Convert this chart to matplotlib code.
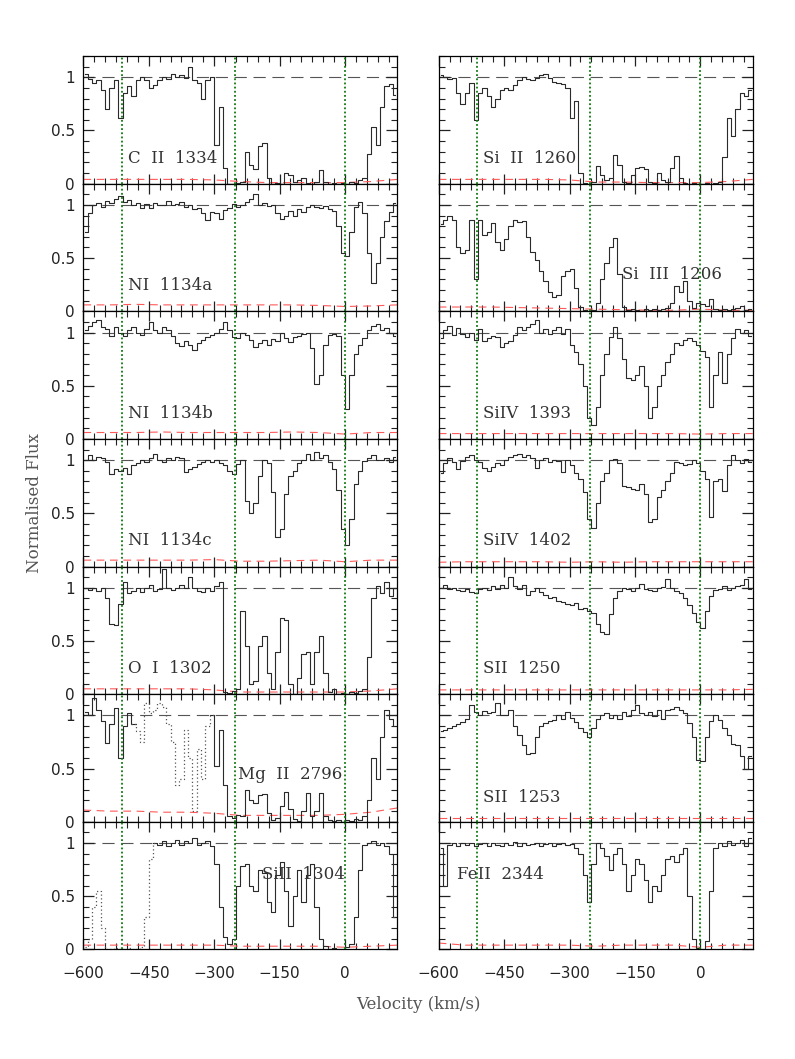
import numpy as np
import matplotlib.pyplot as plt
from matplotlib.ticker import MultipleLocator, FuncFormatter

# velocity bin centres (km/s) and the coarser grid used for the error spectra
VEL = np.arange(-595, 120, 10)
ERR_VEL = np.arange(-600, 121, 60)
VLINES = [-512, -252, 0]

# ---- left column ----
C2_1334 = [1.03, 0.98, 0.95, 0.97, 0.88, 0.70, 0.90, 0.97, 0.62, 0.85, 0.92, 0.82,
           0.97, 1.00, 0.97, 0.90, 0.93, 0.97, 1.00, 0.98, 1.03, 1.00, 1.02, 0.99,
           1.10, 0.97, 0.95, 0.80, 0.97, 1.00, 0.36, 0.72, 0.15, 0.00, 0.00, 0.01,
           0.02, 0.30, 0.18, 0.14, 0.35, 0.38, 0.05, 0.00, 0.01, 0.00, 0.10, 0.08,
           0.02, 0.03, 0.05, 0.01, 0.00, 0.02, 0.13, 0.02, 0.00, 0.01, 0.00, 0.01,
           0.00, 0.02, 0.01, 0.03, 0.05, 0.28, 0.53, 0.36, 0.72, 0.92, 0.94, 0.83]
N1_1134A = [0.75, 0.92, 1.00, 1.02, 0.98, 1.04, 1.02, 1.06, 1.08, 1.03, 1.05, 1.00,
            1.02, 0.97, 1.01, 0.97, 1.02, 1.00, 1.00, 1.04, 1.00, 1.01, 1.03, 0.98,
            1.00, 0.96, 0.97, 0.92, 0.86, 0.93, 0.92, 0.87, 0.95, 0.97, 1.01, 0.98,
            1.00, 1.03, 1.06, 1.10, 1.00, 1.02, 0.99, 1.00, 0.92, 0.87, 0.90, 0.94,
            0.90, 0.96, 0.93, 0.98, 1.00, 0.98, 0.97, 0.99, 0.96, 0.94, 0.80, 0.55,
            0.52, 0.75, 0.98, 1.03, 0.92, 0.55, 0.27, 0.45, 0.70, 0.85, 0.93, 1.02]
N1_1134B = [1.02, 1.06, 1.10, 1.12, 1.05, 1.03, 0.97, 1.05, 1.00, 0.97, 1.02, 1.05,
            1.00, 0.98, 1.03, 1.10, 1.02, 1.00, 1.05, 1.02, 0.97, 0.90, 0.87, 0.92,
            0.88, 0.84, 0.90, 0.93, 0.96, 0.98, 1.00, 1.03, 1.10, 1.02, 0.96, 0.95,
            1.00, 0.98, 0.93, 0.86, 0.90, 0.93, 0.88, 0.94, 0.92, 1.00, 0.95, 0.91,
            0.96, 0.97, 0.99, 1.00, 0.85, 0.52, 0.60, 0.88, 0.98, 0.99, 0.97, 0.60,
            0.28, 0.60, 0.80, 0.88, 0.95, 1.02, 1.06, 1.08, 1.02, 1.04, 1.00, 0.97]
N1_1134C = [1.00, 1.05, 1.00, 1.03, 1.02, 0.98, 0.87, 0.92, 0.90, 0.93, 0.87, 0.95,
            0.97, 1.00, 0.98, 1.02, 1.06, 1.00, 0.98, 1.02, 1.00, 1.03, 1.02, 0.89,
            0.92, 0.94, 0.96, 0.98, 1.00, 0.98, 1.00, 0.97, 0.95, 0.90, 0.87, 0.96,
            1.00, 0.62, 0.50, 0.60, 0.85, 1.00, 0.97, 0.70, 0.28, 0.35, 0.68, 0.85,
            0.90, 0.97, 1.00, 1.06, 1.00, 1.08, 1.02, 1.05, 0.98, 0.92, 0.72, 0.35,
            0.20, 0.45, 0.78, 0.90, 0.99, 1.02, 1.05, 1.00, 1.00, 1.02, 0.98, 1.03]
O1_1302 = [1.00, 0.98, 1.00, 0.97, 1.00, 0.90, 0.66, 0.65, 0.85, 1.05, 0.95, 0.97,
           1.00, 0.96, 1.00, 1.03, 0.97, 0.99, 1.18, 1.00, 0.98, 1.00, 1.03, 1.00,
           1.10, 1.00, 0.97, 0.96, 1.00, 0.97, 1.02, 1.05, 0.02, 0.01, 0.03, 0.05,
           0.78, 0.45, 0.10, 0.12, 0.45, 0.55, 0.20, 0.05, 0.40, 0.72, 0.70, 0.10,
           0.00, 0.15, 0.38, 0.40, 0.10, 0.40, 0.55, 0.20, 0.02, 0.05, 0.00, 0.01,
           0.00, 0.02, 0.01, 0.03, 0.05, 0.35, 0.90, 1.02, 0.95, 1.05, 0.92, 1.00]
MG2_2796 = [1.03, 1.00, 1.16, 1.05, 0.95, 0.74, 0.92, 1.07, 0.60, 0.90, 1.02, 0.92,
            0.85, 0.75, 1.12, 1.02, 1.05, 1.12, 1.08, 0.92, 0.75, 0.35, 0.40, 0.86,
            0.60, 0.10, 0.68, 0.40, 0.90, 1.00, 0.52, 0.86, 0.35, 0.05, 0.04, 0.06,
            0.05, 0.30, 0.20, 0.18, 0.25, 0.26, 0.08, 0.02, 0.04, 0.15, 0.28, 0.12,
            0.03, 0.01, 0.10, 0.27, 0.05, 0.10, 0.27, 0.05, 0.02, 0.01, 0.02, 0.00,
            0.02, 0.01, 0.03, 0.02, 0.05, 0.20, 0.60, 0.40, 0.80, 1.05, 0.97, 0.90]
SI2_1304 = [0.02, 0.10, 0.40, 0.55, 0.20, 0.00, 0.00, 0.01, 0.00, 0.00, 0.01, 0.00,
            0.00, 0.02, 0.30, 0.85, 1.00, 0.98, 1.02, 0.97, 1.00, 1.03, 0.98, 1.02,
            1.00, 1.05, 0.98, 1.00, 1.02, 0.97, 0.80, 0.40, 0.12, 0.05, 0.10, 0.60,
            0.78, 0.80, 0.60, 0.55, 0.75, 0.72, 0.45, 0.35, 0.70, 0.82, 0.55, 0.22,
            0.50, 0.75, 0.45, 0.70, 0.80, 0.40, 0.10, 0.03, 0.00, 0.01, 0.00, 0.00,
            0.02, 0.05, 0.30, 0.75, 0.98, 1.00, 1.02, 0.98, 1.00, 0.97, 0.90, 0.30]

# ---- right column ----
SI2_1260 = [1.02, 1.00, 0.98, 0.99, 0.85, 0.75, 0.85, 0.95, 0.60, 0.85, 0.90, 0.82,
            0.72, 0.80, 0.88, 0.90, 0.88, 0.93, 0.97, 1.00, 0.98, 0.97, 0.99, 1.02,
            1.03, 0.99, 0.96, 0.95, 0.94, 0.90, 0.62, 0.78, 0.10, 0.01, 0.00, 0.02,
            0.17, 0.08, 0.03, 0.05, 0.27, 0.18, 0.02, 0.01, 0.08, 0.15, 0.16, 0.14,
            0.02, 0.01, 0.10, 0.03, 0.02, 0.15, 0.26, 0.05, 0.01, 0.00, 0.01, 0.00,
            0.00, 0.01, 0.00, 0.01, 0.02, 0.25, 0.62, 0.45, 0.70, 0.85, 0.82, 0.88]
SI3_1206 = [0.82, 0.86, 0.90, 0.86, 0.60, 0.55, 0.58, 0.86, 0.30, 0.86, 0.72, 0.75,
            0.83, 0.65, 0.58, 0.68, 0.80, 0.86, 0.84, 0.85, 0.70, 0.56, 0.48, 0.38,
            0.28, 0.18, 0.13, 0.15, 0.33, 0.38, 0.40, 0.22, 0.04, 0.01, 0.00, 0.01,
            0.08, 0.30, 0.45, 0.60, 0.69, 0.35, 0.04, 0.01, 0.02, 0.01, 0.00, 0.02,
            0.01, 0.02, 0.01, 0.02, 0.03, 0.08, 0.24, 0.18, 0.28, 0.10, 0.03, 0.08,
            0.07, 0.05, 0.12, 0.02, 0.01, 0.02, 0.01, 0.02, 0.03, 0.05, 0.01, 0.02]
SI4_1393 = [0.95, 1.02, 1.06, 0.98, 1.04, 0.99, 0.96, 1.00, 0.93, 1.03, 0.92, 0.95,
            0.97, 0.96, 0.86, 0.90, 0.92, 0.98, 1.05, 1.02, 1.05, 1.08, 1.12, 1.00,
            1.03, 0.99, 1.02, 1.05, 0.99, 1.03, 0.88, 0.82, 0.70, 0.50, 0.20, 0.13,
            0.30, 0.60, 0.80, 0.96, 1.05, 0.95, 0.75, 0.57, 0.55, 0.60, 0.69, 0.50,
            0.20, 0.30, 0.50, 0.60, 0.72, 0.80, 0.90, 0.88, 0.93, 0.95, 0.92, 0.88,
            0.83, 0.77, 0.30, 0.60, 0.82, 0.53, 0.80, 0.95, 1.03, 1.00, 1.02, 0.97]
SI4_1402 = [0.88, 0.97, 1.02, 0.98, 0.92, 0.99, 1.03, 1.05, 1.00, 0.98, 0.93, 0.90,
            0.94, 0.97, 0.95, 1.00, 1.03, 1.05, 1.06, 1.03, 1.05, 1.02, 0.93, 1.00,
            1.02, 0.98, 1.00, 0.99, 0.89, 1.00, 0.95, 0.88, 0.82, 0.70, 0.45, 0.36,
            0.60, 0.80, 0.88, 1.00, 1.01, 0.97, 0.76, 0.75, 0.73, 0.72, 0.78, 0.68,
            0.42, 0.45, 0.65, 0.72, 0.80, 0.88, 0.98, 0.97, 0.95, 0.96, 1.00, 0.97,
            0.90, 0.82, 0.47, 0.80, 0.82, 0.71, 0.95, 1.05, 1.00, 0.97, 1.01, 0.98]
S2_1250 = [1.00, 1.03, 0.99, 1.00, 0.98, 0.97, 0.99, 0.96, 0.95, 0.99, 1.00, 0.98,
           1.02, 0.99, 1.03, 1.00, 1.10, 1.02, 0.99, 1.03, 0.93, 0.97, 1.00, 0.96,
           0.93, 0.90, 0.91, 0.88, 0.87, 0.85, 0.84, 0.86, 0.80, 0.81, 0.78, 0.76,
           0.66, 0.58, 0.57, 0.75, 0.90, 0.97, 1.00, 0.99, 0.97, 1.00, 1.04, 0.99,
           0.98, 0.97, 1.00, 1.01, 1.08, 1.00, 0.97, 0.95, 0.90, 0.84, 0.76, 0.68,
           0.62, 0.78, 0.92, 0.98, 0.99, 1.02, 0.98, 1.00, 1.02, 1.03, 1.08, 0.99]
S2_1253 = [0.85, 0.86, 0.88, 0.90, 0.92, 0.94, 0.97, 1.10, 1.03, 1.00, 1.04, 1.02,
           1.03, 1.12, 1.00, 1.00, 1.05, 0.90, 0.82, 0.72, 0.64, 0.65, 0.80, 0.90,
           0.93, 0.95, 0.96, 1.00, 0.97, 1.03, 0.98, 0.94, 0.88, 0.84, 0.80, 0.88,
           0.97, 1.00, 1.02, 0.98, 1.00, 0.97, 1.03, 0.99, 1.05, 1.10, 1.02, 1.00,
           1.03, 0.99, 1.05, 0.97, 1.05, 1.06, 1.08, 1.05, 1.02, 0.93, 0.80, 0.58,
           0.57, 0.80, 0.95, 1.00, 0.96, 0.88, 0.82, 0.73, 0.72, 0.62, 0.50, 0.62]
FE2_2344 = [0.95, 0.60, 0.98, 1.00, 0.97, 1.00, 0.98, 1.00, 0.97, 0.99, 1.00, 0.97,
            1.00, 0.98, 0.97, 1.00, 0.98, 1.01, 0.97, 1.00, 0.98, 0.99, 1.00, 0.97,
            0.99, 1.00, 0.97, 0.99, 1.00, 0.98, 0.99, 0.95, 0.90, 0.70, 0.45, 0.80,
            1.00, 0.95, 0.88, 0.75, 0.90, 0.95, 0.80, 0.55, 0.70, 0.85, 0.80, 0.65,
            0.45, 0.60, 0.55, 0.70, 0.85, 0.88, 0.82, 0.90, 0.95, 0.50, 0.10, 0.01,
            0.00, 0.08, 0.55, 0.95, 1.00, 0.97, 1.02, 0.98, 1.00, 1.03, 0.97, 1.05]

# error spectra on ERR_VEL
ERR_C2_1334 = [0.04, 0.04, 0.04, 0.04, 0.04, 0.035, 0.02, 0.01, 0.01, 0.01, 0.01, 0.02, 0.04]
ERR_N1_1134A = [0.06, 0.06, 0.065, 0.06, 0.06, 0.06, 0.06, 0.06, 0.06, 0.055, 0.045, 0.05, 0.06]
ERR_N1_1134B = [0.06, 0.06, 0.06, 0.065, 0.06, 0.06, 0.06, 0.06, 0.065, 0.06, 0.045, 0.06, 0.06]
ERR_N1_1134C = [0.06, 0.06, 0.06, 0.06, 0.06, 0.065, 0.05, 0.05, 0.055, 0.06, 0.045, 0.06, 0.06]
ERR_O1_1302 = [0.05, 0.05, 0.05, 0.05, 0.05, 0.04, 0.02, 0.02, 0.02, 0.02, 0.02, 0.03, 0.05]
ERR_MG2_2796 = [0.11, 0.10, 0.10, 0.09, 0.09, 0.08, 0.06, 0.06, 0.06, 0.06, 0.07, 0.09, 0.13]
ERR_SI2_1304 = [0.04, 0.04, 0.04, 0.04, 0.04, 0.04, 0.03, 0.03, 0.03, 0.03, 0.02, 0.03, 0.04]
ERR_SI2_1260 = [0.04, 0.04, 0.04, 0.04, 0.04, 0.035, 0.015, 0.015, 0.01, 0.01, 0.01, 0.02, 0.04]
ERR_SI3_1206 = [0.04, 0.04, 0.04, 0.035, 0.03, 0.025, 0.02, 0.015, 0.01, 0.01, 0.02, 0.01, 0.01]
ERR_SI4_1393 = [0.05, 0.05, 0.05, 0.05, 0.05, 0.05, 0.05, 0.05, 0.05, 0.05, 0.045, 0.05, 0.05]
ERR_SI4_1402 = [0.04, 0.045, 0.045, 0.045, 0.045, 0.04, 0.045, 0.04, 0.045, 0.045, 0.045, 0.045, 0.045]
ERR_S2_1250 = [0.04, 0.04, 0.04, 0.04, 0.04, 0.04, 0.04, 0.04, 0.04, 0.04, 0.04, 0.04, 0.045]
ERR_S2_1253 = [0.04, 0.04, 0.04, 0.04, 0.04, 0.04, 0.04, 0.04, 0.04, 0.04, 0.04, 0.04, 0.04]
ERR_FE2_2344 = [0.06, 0.04, 0.04, 0.04, 0.04, 0.04, 0.03, 0.04, 0.04, 0.04, 0.02, 0.04, 0.04]

# velocity ranges blended with other lines (drawn dotted)
BLEND_MG2_2796 = (-480, -310)
BLEND_SI2_1304 = (-600, -440)

LEFT = [
    ("C  II  1334", C2_1334, ERR_C2_1334, None, (-497, 0.19)),
    ("NI  1134a", N1_1134A, ERR_N1_1134A, None, (-497, 0.2)),
    ("NI  1134b", N1_1134B, ERR_N1_1134B, None, (-497, 0.2)),
    ("NI  1134c", N1_1134C, ERR_N1_1134C, None, (-497, 0.2)),
    ("O  I  1302", O1_1302, ERR_O1_1302, None, (-497, 0.2)),
    ("Mg  II  2796", MG2_2796, ERR_MG2_2796, BLEND_MG2_2796, (-246, 0.40)),
    ("SiII  1304", SI2_1304, ERR_SI2_1304, BLEND_SI2_1304, (-190, 0.66)),
]
RIGHT = [
    ("Si  II  1260", SI2_1260, ERR_SI2_1260, None, (-499, 0.19)),
    ("Si  III  1206", SI3_1206, ERR_SI3_1206, None, (-179, 0.30)),
    ("SiIV  1393", SI4_1393, ERR_SI4_1393, None, (-499, 0.2)),
    ("SiIV  1402", SI4_1402, ERR_SI4_1402, None, (-499, 0.2)),
    ("SII  1250", S2_1250, ERR_S2_1250, None, (-499, 0.2)),
    ("SII  1253", S2_1253, ERR_S2_1253, None, (-499, 0.19)),
    ("FeII  2344", FE2_2344, ERR_FE2_2344, None, (-559, 0.66)),
]


def draw_panel(ax, label, flux, err, blend, pos):
    flux = np.asarray(flux, dtype=float)
    ax.axhline(1.0, color="#555555", lw=0.8, ls=(0, (11, 6)), zorder=1)
    ax.plot(ERR_VEL, err, color="#ff5a5a", lw=0.8, ls=(0, (7, 5)), zorder=2)
    if blend is None:
        ax.plot(VEL, flux, drawstyle="steps-mid", color="#2a2a2a", lw=0.8, zorder=3)
    else:
        inside = (VEL > blend[0]) & (VEL < blend[1])
        # extend dotted part one bin each side so both pieces join up
        edge = inside | np.roll(inside, 1) | np.roll(inside, -1)
        ax.plot(VEL, np.where(inside, np.nan, flux), drawstyle="steps-mid",
                color="#2a2a2a", lw=0.8, zorder=3)
        ax.plot(VEL, np.where(edge, flux, np.nan), drawstyle="steps-mid",
                color="#555555", lw=0.9, ls=(0, (1, 2)), zorder=3)
    for v in VLINES:
        ax.axvline(v, color="#0f7a0f", lw=1.3, ls=(0, (1, 1.3)), zorder=4)
    ax.text(pos[0], pos[1], label, family="DejaVu Serif", fontsize=12, color="#333333")

    ax.set_xlim(-600, 120)
    ax.set_ylim(0, 1.2)
    ax.set_xticks([-600, -450, -300, -150, 0])
    ax.xaxis.set_minor_locator(MultipleLocator(25))
    ax.set_yticks([0, 0.5, 1])
    ax.yaxis.set_minor_locator(MultipleLocator(0.1))
    ax.yaxis.set_major_formatter(FuncFormatter(lambda v, p: f"{v:g}"))
    ax.tick_params(which="both", direction="in", top=True, right=True,
                   labelsize=11, colors="#222222")
    ax.tick_params(axis="y", which="major", length=8, width=0.9, pad=6)
    ax.tick_params(axis="x", which="major", length=7, width=0.9, pad=12)
    ax.tick_params(which="minor", length=4, width=0.8)
    for sp in ax.spines.values():
        sp.set_linewidth(0.9)


fig, axes = plt.subplots(7, 2, figsize=(7.95, 10.59), dpi=100, sharex=True, sharey=True,
                         gridspec_kw=dict(left=0.1048, right=0.9468, bottom=0.1035,
                                          top=0.9471, hspace=0, wspace=0.1315))

for row in range(7):
    draw_panel(axes[row, 0], *LEFT[row])
    draw_panel(axes[row, 1], *RIGHT[row])

fig.text(0.044, 0.525, "Normalised Flux", rotation=90, ha="center", va="center",
         family="DejaVu Serif", fontsize=12, color="#555555")
fig.text(0.526, 0.051, "Velocity (km/s)", ha="center", va="center",
         family="DejaVu Serif", fontsize=12, color="#555555")

fig.savefig("out.png", dpi=100)
